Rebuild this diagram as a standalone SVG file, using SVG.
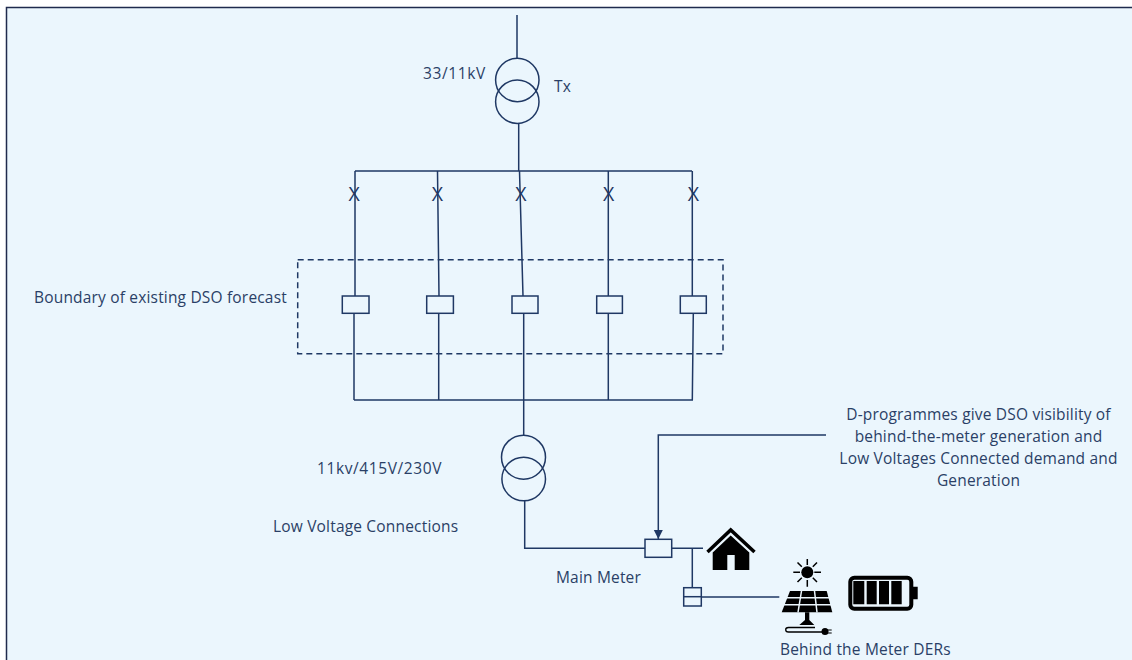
<svg xmlns="http://www.w3.org/2000/svg" width="1132" height="660" viewBox="0 0 1132 660">
<defs>
<marker id="arrow" markerUnits="userSpaceOnUse" markerWidth="10" markerHeight="10" refX="9" refY="5" orient="auto"><path d="M0 0.500L9 5L0 9.500Z" fill="#1f3864"/></marker>
</defs>
<style>
.l{fill:none;stroke:#1f3864;stroke-width:1.500}
.b{fill:#ebf6fd;stroke:#1f3864;stroke-width:1.500}
.k{fill:#000;stroke:none}
.ks{fill:none;stroke:#000}
text{font-family:"Open Sans","Noto Sans",sans-serif;font-size:15.500px;letter-spacing:.18px;fill:#2a3f66}
.x{font-size:19.500px;letter-spacing:0;text-anchor:middle;fill:#1f3864}
.m{text-anchor:middle}
.n{letter-spacing:.6px}
</style>
<rect width="1132" height="660" fill="#fff"/>
<rect x="7" y="8" width="1125" height="652" fill="#ebf6fd"/>
<path d="M6.500 660V7.500H1132" fill="none" stroke="#1f2a4d" stroke-width="1.500"/>
<g id="connectors">
<path class="l" d="M517 15V58M518.700 123V171M355 171H692"/>
<path class="l" d="M355 171V296M354 313.500V400M437.500 171L439 296M438.700 313.500V400M519.500 171L523 296M523.700 313.500V435M608.300 171V296M608.300 313.500V400M692.300 171V296M693.300 313.500L692.300 400M354 400H693"/>
<path class="l" d="M524.700 500.700V548.300H645M672 548.300H703M692.300 548.300V587.700M701.300 597H779.300"/>
<path class="l" d="M826 435H658.300V539" marker-end="url(#arrow)"/>
</g>
<g id="breakers">
<text class="x" x="354.200" y="200.700">X</text>
<text class="x" x="437.500" y="200.700">X</text>
<text class="x" x="520.900" y="200.700">X</text>
<text class="x" x="608.700" y="200.700">X</text>
<text class="x" x="693.300" y="200.700">X</text>
</g>
<g id="tx1"><circle class="l" cx="517.300" cy="80" r="21.700"/><circle class="l" cx="517.300" cy="101.700" r="21.700"/></g>
<g id="tx2"><circle class="l" cx="523.500" cy="457.200" r="22"/><circle class="l" cx="523.700" cy="479" r="21.800"/></g>
<g id="boundary"><rect x="297.700" y="259.700" width="425.300" height="94" fill="none" stroke="#1f3864" stroke-width="1.500" stroke-dasharray="6 4"/></g>
<g id="meters">
<rect class="b" x="342.300" y="296" width="26.700" height="17.300"/>
<rect class="b" x="426.700" y="296" width="26.700" height="17.300"/>
<rect class="b" x="512" y="296" width="26" height="17.300"/>
<rect class="b" x="596.700" y="296" width="25.700" height="17.300"/>
<rect class="b" x="680.300" y="296" width="26" height="17.300"/>
</g>
<g id="main-meter"><rect class="b" x="645" y="539.300" width="26.700" height="18"/></g>
<g id="der-meter"><rect class="b" x="683.700" y="587.700" width="17.600" height="18.300"/><path class="l" d="M683.700 596.700H701.300"/></g>
<g id="house">
<path class="ks" stroke-width="3.500" d="M707.500 552L730.700 530L754.500 552"/>
<path class="k" fill-rule="evenodd" d="M730.700 535.500L749.300 552.500V570H734.700V555H727.300V570H712.700V552.500Z"/>
</g>
<g id="solar">
<circle class="k" cx="807.300" cy="572.300" r="6"/>
<path class="ks" stroke-width="1.500" d="M807.300 559V565M807.300 580V586.700M793.300 572.300H800M814.300 572.300H821M797.500 562.500L801.800 566.800M812.800 577.800L817 582M797.500 582L801.800 577.800M812.800 566.800L817 562.500"/>
<path class="k" d="M790 591H826.700L832.300 612.300H781.700Z"/>
<path d="M801.500 591L798 612.300M814.500 591L817 612.300M786 597.800H829M784 604.800H831" fill="none" stroke="#ebf6fd" stroke-width="1.500"/>
<path class="k" d="M805 612.300H809.300V620L814.300 625H799.300L805 620Z"/>
<path class="ks" stroke-width="1.300" d="M822 632H788.500Q785.700 632 785.700 629.700Q785.700 627.500 788.500 627.500H815"/>
<circle class="k" cx="825" cy="631.500" r="3.500"/>
<path class="ks" stroke-width="1.200" d="M827 630H831.700M827 633H831.700"/>
</g>
<g id="battery">
<rect x="850.300" y="577.700" width="61" height="31" rx="4" fill="none" stroke="#000" stroke-width="4"/>
<path class="k" d="M913 586.700H917.700V599.300H913ZM853.300 581H864.300V604.300H853.300ZM866.700 581H876.700V604.300H866.700ZM879 581H889V604.300H879ZM891.300 581H901.700V604.300H891.300Z"/>
</g>
<g id="labels">
<text class="n" x="423" y="79">33/11kV</text>
<text x="554" y="92">Tx</text>
<text x="34" y="302.500">Boundary of existing DSO forecast</text>
<text class="n" x="317" y="474">11kv/415V/230V</text>
<text x="273" y="531.500">Low Voltage Connections</text>
<text x="556" y="582.500">Main Meter</text>
<text x="780" y="654.500">Behind the Meter DERs</text>
<text class="m" x="978.500" y="420">D-programmes give DSO visibility of</text>
<text class="m" x="978.500" y="441.700">behind-the-meter generation and</text>
<text class="m" x="978.500" y="464">Low Voltages Connected demand and</text>
<text class="m" x="978.500" y="485.700">Generation</text>
</g>
</svg>
